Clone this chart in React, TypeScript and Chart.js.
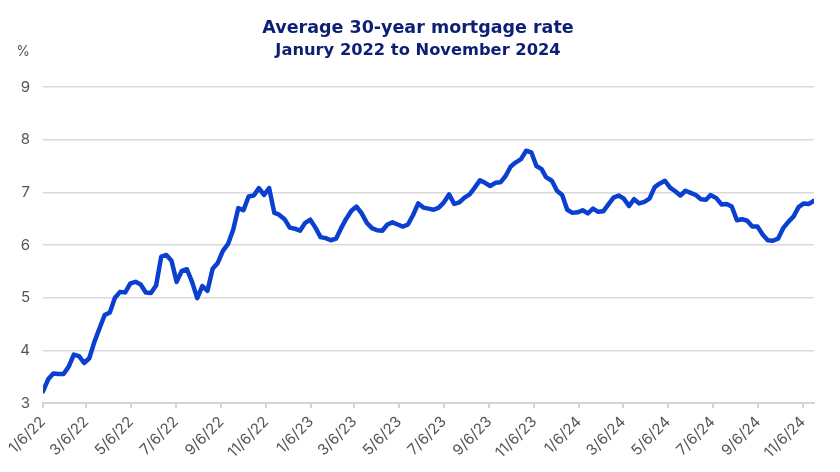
import React, { useEffect, useRef } from 'react';
import { Chart, registerables } from 'chart.js';

Chart.register(...registerables);

const titleText = 'Average 30-year mortgage rate';
const subtitleText = 'Janury 2022 to November 2024';
const unitLabel = '%';

const dates2022 = [
  '1/6/22', '1/13/22', '1/20/22', '1/27/22', '2/3/22', '2/10/22', '2/17/22', '2/24/22', '3/3/22', '3/10/22',
  '3/17/22', '3/24/22', '3/31/22', '4/7/22', '4/14/22', '4/21/22', '4/28/22', '5/5/22', '5/12/22', '5/19/22',
  '5/26/22', '6/2/22', '6/9/22', '6/16/22', '6/23/22', '6/30/22', '7/7/22', '7/14/22', '7/21/22', '7/28/22',
  '8/4/22', '8/11/22', '8/18/22', '8/25/22', '9/1/22', '9/8/22', '9/15/22', '9/22/22', '9/29/22', '10/6/22',
  '10/13/22', '10/20/22', '10/27/22', '11/3/22', '11/10/22', '11/17/22', '11/23/22', '12/1/22', '12/8/22', '12/15/22',
  '12/22/22', '12/29/22',
];
const rates2022 = [
  3.22, 3.45, 3.56, 3.55, 3.55, 3.69, 3.92, 3.89, 3.76, 3.85,
  4.16, 4.42, 4.67, 4.72, 5.0, 5.11, 5.1, 5.27, 5.3, 5.25,
  5.1, 5.09, 5.23, 5.78, 5.81, 5.7, 5.3, 5.51, 5.54, 5.3,
  4.99, 5.22, 5.13, 5.55, 5.66, 5.89, 6.02, 6.29, 6.7, 6.66,
  6.92, 6.94, 7.08, 6.95, 7.08, 6.61, 6.58, 6.49, 6.33, 6.31,
  6.27, 6.42,
];

const dates2023 = [
  '1/5/23', '1/12/23', '1/19/23', '1/26/23', '2/2/23', '2/9/23', '2/16/23', '2/23/23', '3/2/23', '3/9/23',
  '3/16/23', '3/23/23', '3/30/23', '4/6/23', '4/13/23', '4/20/23', '4/27/23', '5/4/23', '5/11/23', '5/18/23',
  '5/25/23', '6/1/23', '6/8/23', '6/15/23', '6/22/23', '6/29/23', '7/6/23', '7/13/23', '7/20/23', '7/27/23',
  '8/3/23', '8/10/23', '8/17/23', '8/24/23', '8/31/23', '9/7/23', '9/14/23', '9/21/23', '9/28/23', '10/5/23',
  '10/12/23', '10/19/23', '10/26/23', '11/2/23', '11/9/23', '11/16/23', '11/22/23', '11/30/23', '12/7/23', '12/14/23',
  '12/21/23', '12/28/23',
];
const rates2023 = [
  6.48, 6.33, 6.15, 6.13, 6.09, 6.12, 6.32, 6.5, 6.65, 6.73,
  6.6, 6.42, 6.32, 6.28, 6.27, 6.39, 6.43, 6.39, 6.35, 6.39,
  6.57, 6.79, 6.71, 6.69, 6.67, 6.71, 6.81, 6.96, 6.78, 6.81,
  6.9, 6.96, 7.09, 7.23, 7.18, 7.12, 7.18, 7.19, 7.31, 7.49,
  7.57, 7.63, 7.79, 7.76, 7.5, 7.44, 7.29, 7.22, 7.03, 6.95,
  6.67, 6.61,
];

const dates2024 = [
  '1/4/24', '1/11/24', '1/18/24', '1/25/24', '2/1/24', '2/8/24', '2/15/24', '2/22/24', '2/29/24', '3/7/24',
  '3/14/24', '3/21/24', '3/28/24', '4/4/24', '4/11/24', '4/18/24', '4/25/24', '5/2/24', '5/9/24', '5/16/24',
  '5/23/24', '5/30/24', '6/6/24', '6/13/24', '6/20/24', '6/27/24', '7/3/24', '7/11/24', '7/18/24', '7/25/24',
  '8/1/24', '8/8/24', '8/15/24', '8/22/24', '8/29/24', '9/5/24', '9/12/24', '9/19/24', '9/26/24', '10/3/24',
  '10/10/24', '10/17/24', '10/24/24', '10/31/24', '11/7/24', '11/14/24', '11/21/24',
];
const rates2024 = [
  6.62, 6.66, 6.6, 6.69, 6.63, 6.64, 6.77, 6.9, 6.94, 6.88,
  6.74, 6.87, 6.79, 6.82, 6.88, 7.1, 7.17, 7.22, 7.09, 7.02,
  6.94, 7.03, 6.99, 6.95, 6.87, 6.86, 6.95, 6.89, 6.77, 6.78,
  6.73, 6.47, 6.49, 6.46, 6.35, 6.35, 6.2, 6.09, 6.08, 6.12,
  6.32, 6.44, 6.54, 6.72, 6.79, 6.78, 6.84,
];

const xTickLabels = [
  '1/6/22', '3/6/22', '5/6/22', '7/6/22', '9/6/22', '11/6/22',
  '1/6/23', '3/6/23', '5/6/23', '7/6/23', '9/6/23', '11/6/23',
  '1/6/24', '3/6/24', '5/6/24', '7/6/24', '9/6/24', '11/6/24',
];
const yMin = 3;
const yMax = 9;

const allDates = [...dates2022, ...dates2023, ...dates2024];
const allRates = [...rates2022, ...rates2023, ...rates2024];

function dayOffset(s: string): number {
  const [m, d, y] = s.split('/').map(Number);
  return Math.round((Date.UTC(2000 + y, m - 1, d) - Date.UTC(2022, 0, 6)) / 86400000);
}

const points = allDates.map((d, i) => ({ x: dayOffset(d), y: allRates[i] }));
const tickDays = xTickLabels.map(dayOffset);
const lastDay = dayOffset(allDates[allDates.length - 1]);

const textPlugin = {
  id: 'headerText',
  afterDraw(chart: any) {
    const ctx = chart.ctx;
    ctx.save();
    ctx.textAlign = 'center';
    ctx.textBaseline = 'alphabetic';
    ctx.fillStyle = '#0d1f73';
    ctx.font = 'bold 17.5px "DejaVu Sans", sans-serif';
    ctx.fillText(titleText, 418, 33);
    ctx.font = 'bold 16.3px "DejaVu Sans", sans-serif';
    ctx.fillText(subtitleText, 418, 55);
    ctx.fillStyle = '#555555';
    ctx.textBaseline = 'middle';
    ctx.font = '14px Inter, "Noto Sans", sans-serif';
    ctx.fillText(unitLabel, 23, 52);
    ctx.restore();
  },
};

export default function App() {
  const ref = useRef<HTMLCanvasElement | null>(null);

  useEffect(() => {
    if (!ref.current) return;
    const chart = new Chart(ref.current, {
      type: 'line',
      data: {
        datasets: [
          {
            data: points,
            borderColor: '#0a3fd0',
            borderWidth: 4.5,
            pointRadius: 0,
            tension: 0,
            borderJoinStyle: 'round',
            borderCapStyle: 'round',
            fill: false,
          },
        ],
      },
      options: {
        animation: false,
        responsive: false,
        devicePixelRatio: 1,
        layout: { padding: { top: 87, right: 26, left: 0, bottom: 0 } },
        plugins: {
          legend: { display: false },
          tooltip: { enabled: false },
          title: { display: false },
        },
        scales: {
          x: {
            type: 'linear',
            min: 0,
            max: lastDay,
            afterBuildTicks: (scale: any) => {
              scale.ticks = tickDays.map((v) => ({ value: v }));
            },
            afterFit: (scale: any) => {
              scale.height = 69;
            },
            ticks: {
              autoSkip: false,
              minRotation: 45,
              maxRotation: 45,
              padding: 5,
              color: '#555555',
              font: { family: 'Inter, "Noto Sans", sans-serif', size: 15 },
              callback: (value: any) => {
                const idx = tickDays.indexOf(Number(value));
                return idx >= 0 ? xTickLabels[idx] : '';
              },
            },
            grid: {
              drawOnChartArea: false,
              drawTicks: true,
              tickLength: 5,
              color: '#d4d4d4',
              lineWidth: 2,
            },
            border: { display: true, color: '#d4d4d4', width: 2 },
          },
          y: {
            min: yMin,
            max: yMax,
            afterFit: (scale: any) => {
              scale.width = 43;
            },
            ticks: {
              stepSize: 1,
              padding: 13,
              color: '#555555',
              font: { family: 'Inter, "Noto Sans", sans-serif', size: 15 },
            },
            grid: { color: '#dadada', lineWidth: 1.5, drawTicks: false },
            border: { display: false },
          },
        },
      },
      plugins: [textPlugin],
    } as any);
    return () => chart.destroy();
  }, []);

  return (
    <div style={{ position: 'absolute', left: 0, top: 0, width: 840, height: 472, background: '#ffffff' }}>
      <canvas ref={ref} width={840} height={472} style={{ display: 'block', width: 840, height: 472 }} />
    </div>
  );
}
